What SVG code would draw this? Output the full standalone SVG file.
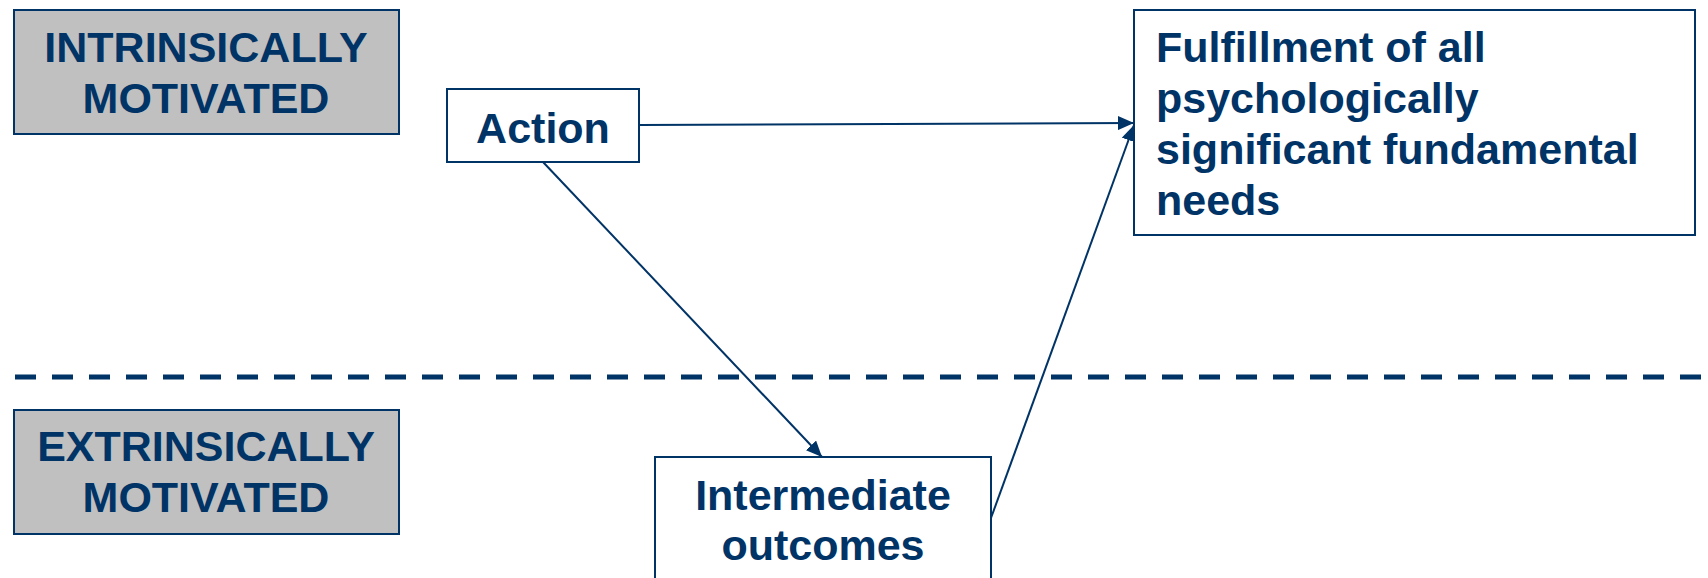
<svg xmlns="http://www.w3.org/2000/svg" width="1708" height="578" viewBox="0 0 1708 578">
<style>
.box{fill:#ffffff;stroke:#003366;stroke-width:2}
.gray{fill:#c0c0c0;stroke:#003366;stroke-width:2}
.t{font-family:"Liberation Sans",Arial,sans-serif;font-weight:bold;font-size:43px;fill:#003366}
.c{text-anchor:middle}
.con{stroke:#003366;stroke-width:2;fill:none}
</style>
<defs>
<marker id="arr" markerUnits="userSpaceOnUse" markerWidth="18" markerHeight="14" refX="16" refY="7" orient="auto">
<path d="M0,0 L16,7 L0,14 z" fill="#003366"/>
</marker>
</defs>
<rect width="1708" height="578" fill="#ffffff"/>
<line x1="15" y1="377" x2="1708" y2="377" stroke="#003366" stroke-width="5" stroke-dasharray="21 16"/>
<g id="intrinsic">
<rect class="gray" x="14" y="10" width="385" height="124"/>
<text class="t c" x="206" y="62">INTRINSICALLY</text>
<text class="t c" x="206" y="113">MOTIVATED</text>
</g>
<g id="extrinsic">
<rect class="gray" x="14" y="410" width="385" height="124"/>
<text class="t c" x="206" y="461">EXTRINSICALLY</text>
<text class="t c" x="206" y="512">MOTIVATED</text>
</g>
<g id="action">
<rect class="box" x="447" y="89" width="192" height="73"/>
<text class="t c" x="543" y="143">Action</text>
</g>
<g id="fulfillment">
<rect class="box" x="1134" y="10" width="561" height="225"/>
<text class="t" x="1156" y="62">Fulfillment of all</text>
<text class="t" x="1156" y="113">psychologically</text>
<text class="t" x="1156" y="164">significant fundamental</text>
<text class="t" x="1156" y="215">needs</text>
</g>
<g id="intermediate">
<rect class="box" x="655" y="457" width="336" height="130"/>
<text class="t c" x="823" y="510">Intermediate</text>
<text class="t c" x="823" y="560">outcomes</text>
</g>
<g id="connectors">
<line class="con" x1="639" y1="125" x2="1134" y2="123" marker-end="url(#arr)"/>
<line class="con" x1="543" y1="162" x2="822" y2="457" marker-end="url(#arr)"/>
<line class="con" x1="991" y1="518" x2="1134" y2="125" marker-end="url(#arr)"/>
</g>
</svg>
